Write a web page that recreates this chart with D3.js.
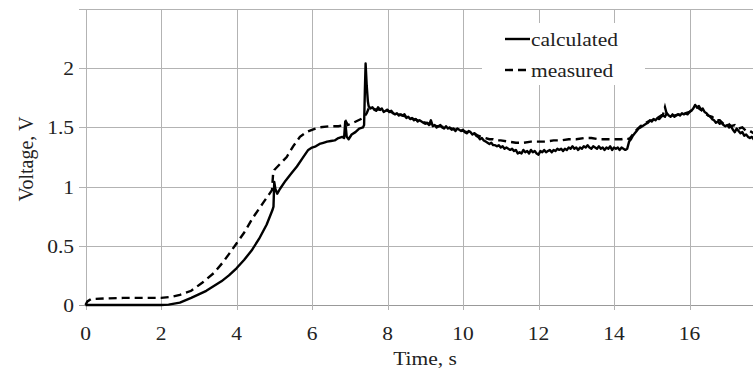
<!DOCTYPE html>
<html>
<head>
<meta charset="utf-8">
<script src="https://cdn.jsdelivr.net/npm/d3@7"></script>
<style>
  body { margin: 0; background: #fff; }
</style>
</head>
<body>
<div id="chart"></div>
<script>
// ticks and legend names
var xTicks = [0, 2, 4, 6, 8, 10, 12, 14, 16];
var yTicks = [0, 0.5, 1, 1.5, 2];
var yLines = [0, 0.5, 1, 1.5, 2, 2.5];
var seriesNames = ["calculated", "measured"];

// calculated voltage [time s, volts]
var calculated = [
  [0, 0], [0.5, 0], [1.0, 0], [1.5, 0], [2.0, 0], [2.2, 0.003], [2.5, 0.02], [2.8, 0.06], [3.0, 0.09], [3.2, 0.12],
  [3.4, 0.16], [3.6, 0.2], [3.8, 0.25], [4.0, 0.31], [4.2, 0.38], [4.4, 0.46], [4.6, 0.56], [4.8, 0.68], [4.95, 0.80], [4.98, 0.83],
  [5.0, 1.04], [5.03, 0.98], [5.08, 0.94], [5.15, 0.98], [5.3, 1.05], [5.45, 1.11], [5.6, 1.17], [5.75, 1.24], [5.9, 1.31], [6.0, 1.33],
  [6.1, 1.34], [6.2, 1.36], [6.3, 1.37], [6.4, 1.38], [6.5, 1.385], [6.6, 1.39], [6.7, 1.41], [6.8, 1.42], [6.85, 1.41], [6.88, 1.55],
  [6.92, 1.42], [6.97, 1.40], [7.05, 1.44], [7.15, 1.46], [7.25, 1.49], [7.35, 1.50], [7.38, 1.52], [7.40, 1.80], [7.42, 2.04], [7.45, 1.85],
  [7.48, 1.72],
  [7.50, 1.68], [7.55, 1.66], [7.60, 1.67], [7.65, 1.65], [7.70, 1.64], [7.75, 1.67], [7.80, 1.65], [7.85, 1.66], [7.90, 1.63], [7.95, 1.64],
  [8.00, 1.65], [8.05, 1.63], [8.10, 1.64], [8.15, 1.62], [8.20, 1.61], [8.25, 1.62], [8.30, 1.60], [8.35, 1.61], [8.40, 1.60], [8.45, 1.61],
  [8.50, 1.58], [8.55, 1.59], [8.60, 1.57], [8.65, 1.58], [8.70, 1.56], [8.75, 1.57], [8.80, 1.55], [8.85, 1.56], [8.90, 1.55], [8.95, 1.54],
  [9.00, 1.53], [9.05, 1.54], [9.10, 1.52], [9.15, 1.56], [9.20, 1.51], [9.25, 1.52], [9.30, 1.50], [9.35, 1.51], [9.40, 1.52], [9.45, 1.50],
  [9.50, 1.49], [9.55, 1.51], [9.60, 1.49], [9.65, 1.50], [9.70, 1.48], [9.75, 1.49], [9.80, 1.47], [9.85, 1.49], [9.90, 1.48], [9.95, 1.47],
  [10.00, 1.48], [10.05, 1.46], [10.10, 1.45], [10.15, 1.47], [10.20, 1.46], [10.25, 1.44], [10.30, 1.45], [10.35, 1.43], [10.40, 1.42], [10.45, 1.40],
  [10.50, 1.41], [10.55, 1.39], [10.60, 1.38], [10.65, 1.37], [10.70, 1.36], [10.75, 1.37], [10.80, 1.35], [10.85, 1.35], [10.90, 1.34], [10.95, 1.35],
  [11.00, 1.33], [11.05, 1.34], [11.10, 1.32], [11.15, 1.33], [11.20, 1.32], [11.25, 1.31], [11.30, 1.32], [11.35, 1.30], [11.40, 1.31], [11.45, 1.28],
  [11.50, 1.29], [11.55, 1.28], [11.60, 1.31], [11.65, 1.29], [11.70, 1.30], [11.75, 1.28], [11.80, 1.31], [11.85, 1.29], [11.90, 1.30], [11.95, 1.28],
  [12.00, 1.27], [12.05, 1.30], [12.10, 1.29], [12.15, 1.31], [12.20, 1.29], [12.25, 1.30], [12.30, 1.31], [12.35, 1.29], [12.40, 1.31], [12.45, 1.30],
  [12.50, 1.32], [12.55, 1.31], [12.60, 1.32], [12.65, 1.30], [12.70, 1.32], [12.75, 1.31], [12.80, 1.33], [12.85, 1.32], [12.90, 1.34], [12.95, 1.32],
  [13.00, 1.33], [13.05, 1.31], [13.10, 1.33], [13.15, 1.32], [13.20, 1.34], [13.25, 1.33], [13.30, 1.35], [13.35, 1.33], [13.40, 1.32], [13.45, 1.34],
  [13.50, 1.33], [13.55, 1.32], [13.60, 1.34], [13.65, 1.32], [13.70, 1.33], [13.75, 1.31], [13.80, 1.33], [13.85, 1.32], [13.90, 1.34], [13.95, 1.31],
  [14.00, 1.33], [14.05, 1.32], [14.10, 1.33], [14.15, 1.31], [14.20, 1.33], [14.25, 1.32], [14.30, 1.31], [14.35, 1.32], [14.40, 1.38], [14.45, 1.40],
  [14.50, 1.43], [14.55, 1.45], [14.60, 1.47], [14.65, 1.49], [14.70, 1.50], [14.75, 1.51], [14.80, 1.52], [14.85, 1.53], [14.90, 1.54], [14.95, 1.56],
  [15.00, 1.55], [15.05, 1.57], [15.10, 1.56], [15.15, 1.58], [15.20, 1.57], [15.25, 1.59], [15.30, 1.60], [15.35, 1.59], [15.40, 1.62], [15.45, 1.60],
  [15.50, 1.59], [15.55, 1.61], [15.60, 1.59], [15.65, 1.60], [15.70, 1.61], [15.75, 1.60], [15.80, 1.62], [15.85, 1.61], [15.90, 1.62], [15.95, 1.61],
  [16.00, 1.63], [16.05, 1.64], [16.10, 1.66], [16.15, 1.69], [16.20, 1.67], [16.25, 1.68], [16.30, 1.65], [16.35, 1.66], [16.40, 1.63], [16.45, 1.62],
  [16.50, 1.60], [16.55, 1.59], [16.60, 1.57], [16.65, 1.56], [16.70, 1.54], [16.75, 1.55], [16.80, 1.53], [16.85, 1.54], [16.90, 1.52], [16.95, 1.51],
  [17.00, 1.52], [17.05, 1.50], [17.10, 1.51], [17.15, 1.48], [17.20, 1.46], [17.25, 1.49], [17.30, 1.47], [17.35, 1.45], [17.40, 1.46], [17.45, 1.43],
  [17.50, 1.44], [17.55, 1.42], [17.60, 1.41], [17.65, 1.42], [17.70, 1.40], [17.75, 1.41], [17.80, 1.39]
];

// measured voltage [time s, volts]
var measured = [
  [0, 0], [0.05, 0.03], [0.15, 0.05], [0.5, 0.055], [1.0, 0.06], [1.5, 0.06], [2.0, 0.06], [2.3, 0.07], [2.5, 0.085], [2.8, 0.12],
  [3.1, 0.19], [3.4, 0.27], [3.64, 0.36], [3.8, 0.43], [4.0, 0.52], [4.2, 0.61], [4.44, 0.74], [4.7, 0.86], [4.94, 0.97], [4.97, 1.11],
  [5.0, 1.14], [5.15, 1.19], [5.33, 1.25], [5.5, 1.34], [5.68, 1.42], [5.85, 1.46], [6.0, 1.48], [6.2, 1.50], [6.48, 1.51], [6.7, 1.51],
  [6.85, 1.52], [6.9, 1.55], [6.95, 1.52], [7.1, 1.54], [7.36, 1.58], [7.45, 1.62], [7.5, 1.66], [7.6, 1.66], [7.7, 1.65], [7.8, 1.65],
  [7.9, 1.64], [8.0, 1.64], [8.1, 1.63], [8.2, 1.61], [8.3, 1.61], [8.4, 1.60], [8.5, 1.59], [8.6, 1.58], [8.7, 1.57], [8.8, 1.56],
  [8.9, 1.55], [9.0, 1.54], [9.1, 1.53], [9.2, 1.52], [9.3, 1.51], [9.4, 1.51], [9.5, 1.50], [9.6, 1.50], [9.7, 1.49], [9.8, 1.48],
  [9.9, 1.48], [10.0, 1.47], [10.1, 1.46], [10.2, 1.46], [10.3, 1.45], [10.4, 1.43], [10.5, 1.42], [10.6, 1.41], [10.7, 1.40], [10.8, 1.40],
  [10.9, 1.39], [11.0, 1.39], [11.2, 1.38], [11.4, 1.37], [11.6, 1.37], [11.8, 1.38], [12.0, 1.38], [12.2, 1.38], [12.4, 1.39], [12.6, 1.39],
  [12.8, 1.40], [13.0, 1.40], [13.2, 1.41], [13.4, 1.41], [13.6, 1.40], [13.8, 1.40], [14.0, 1.40], [14.2, 1.40], [14.35, 1.41], [14.4, 1.40],
  [14.5, 1.44], [14.6, 1.48], [14.7, 1.51], [14.8, 1.53], [14.9, 1.55], [15.0, 1.56], [15.1, 1.57], [15.2, 1.59], [15.3, 1.61], [15.35, 1.67],
  [15.4, 1.61], [15.5, 1.60], [15.6, 1.60], [15.7, 1.61], [15.8, 1.61], [15.9, 1.62], [16.0, 1.63], [16.1, 1.66], [16.2, 1.67], [16.3, 1.65],
  [16.4, 1.62], [16.5, 1.60], [16.6, 1.59], [16.7, 1.56], [16.8, 1.56], [16.9, 1.53], [17.0, 1.54], [17.1, 1.51], [17.2, 1.52], [17.3, 1.49],
  [17.4, 1.50], [17.5, 1.47], [17.6, 1.47], [17.7, 1.45], [17.8, 1.46]
];

var W = 753, H = 372;
var gridColor = "#b3b3b3";
var sx = 1.13; // text in the picture is a bit stretched sideways

var svg = d3.select("#chart").append("svg")
    .attr("width", W)
    .attr("height", H)
    .style("font-family", "'Liberation Serif'")
    .style("fill", "#222");

var x = d3.scaleLinear().domain([0, 18]).range([85.5, 85.5 + 18 * 37.75]);
var y = d3.scaleLinear().domain([0, 2.5]).range([305, 9]);

//grid lines
svg.selectAll(".hgrid").data(yLines).enter().append("line")
    .attr("x1", 79).attr("x2", W)
    .attr("y1", function(d){ return Math.round(y(d)) + 0.5; })
    .attr("y2", function(d){ return Math.round(y(d)) + 0.5; })
    .attr("stroke", function(d){ return d == 0 ? "#999" : gridColor; })
    .attr("stroke-width", 1);

svg.selectAll(".vgrid").data(xTicks).enter().append("line")
    .attr("x1", function(d){ return Math.round(x(d)) + 0.5; })
    .attr("x2", function(d){ return Math.round(x(d)) + 0.5; })
    .attr("y1", y(2.5)).attr("y2", 310)
    .attr("stroke", gridColor)
    .attr("stroke-width", 1);

function stretchedText(sel, px, py, anchor){
    return sel.attr("transform", "translate(" + px + "," + py + ") scale(" + sx + ",1)")
        .attr("text-anchor", anchor)
        .style("font-family", "'Liberation Serif'");
}

//tick labels
svg.selectAll(".ylab").data(yTicks).enter().append("text")
    .each(function(d){ stretchedText(d3.select(this), 74, y(d) + 7, "end"); })
    .style("font-size", "19px")
    .text(function(d){ return d; });

svg.selectAll(".xlab").data(xTicks).enter().append("text")
    .each(function(d){ stretchedText(d3.select(this), x(d), 340, "middle"); })
    .style("font-size", "19px")
    .text(function(d){ return d; });

//axis titles
stretchedText(svg.append("text"), 425, 365, "middle")
    .style("font-size", "19px")
    .text("Time, s");

svg.append("text")
    .attr("transform", "translate(33,159) rotate(-90)")
    .attr("text-anchor", "middle")
    .style("font-family", "'Liberation Serif'")
    .style("font-size", "20px")
    .text("Voltage, V");

//lines
var line = d3.line()
    .x(function(d){ return x(d[0]); })
    .y(function(d){ return y(d[1]); });

svg.append("path")
    .attr("d", line(measured))
    .attr("fill", "none")
    .attr("stroke", "#000")
    .attr("stroke-width", 2.4)
    .attr("stroke-dasharray", "8,5");

svg.append("path")
    .attr("d", line(calculated))
    .attr("fill", "none")
    .attr("stroke", "#000")
    .attr("stroke-width", 2.4)
    .attr("stroke-linejoin", "round");

//legend
svg.append("rect")
    .attr("x", 482).attr("y", 23)
    .attr("width", 163).attr("height", 62)
    .attr("fill", "#fff");

var leg = svg.selectAll(".leg").data(seriesNames).enter().append("g");
leg.append("line")
    .attr("x1", 505).attr("x2", 530)
    .attr("y1", function(d, i){ return 39 + i * 31; })
    .attr("y2", function(d, i){ return 39 + i * 31; })
    .attr("stroke", "#000")
    .attr("stroke-width", 2.4)
    .attr("stroke-dasharray", function(d, i){ return i == 1 ? "8,5" : null; });
leg.append("text")
    .each(function(d, i){ stretchedText(d3.select(this), 531, 46 + i * 31, "start"); })
    .style("font-size", "19px")
    .text(function(d){ return d; });
</script>
</body>
</html>
